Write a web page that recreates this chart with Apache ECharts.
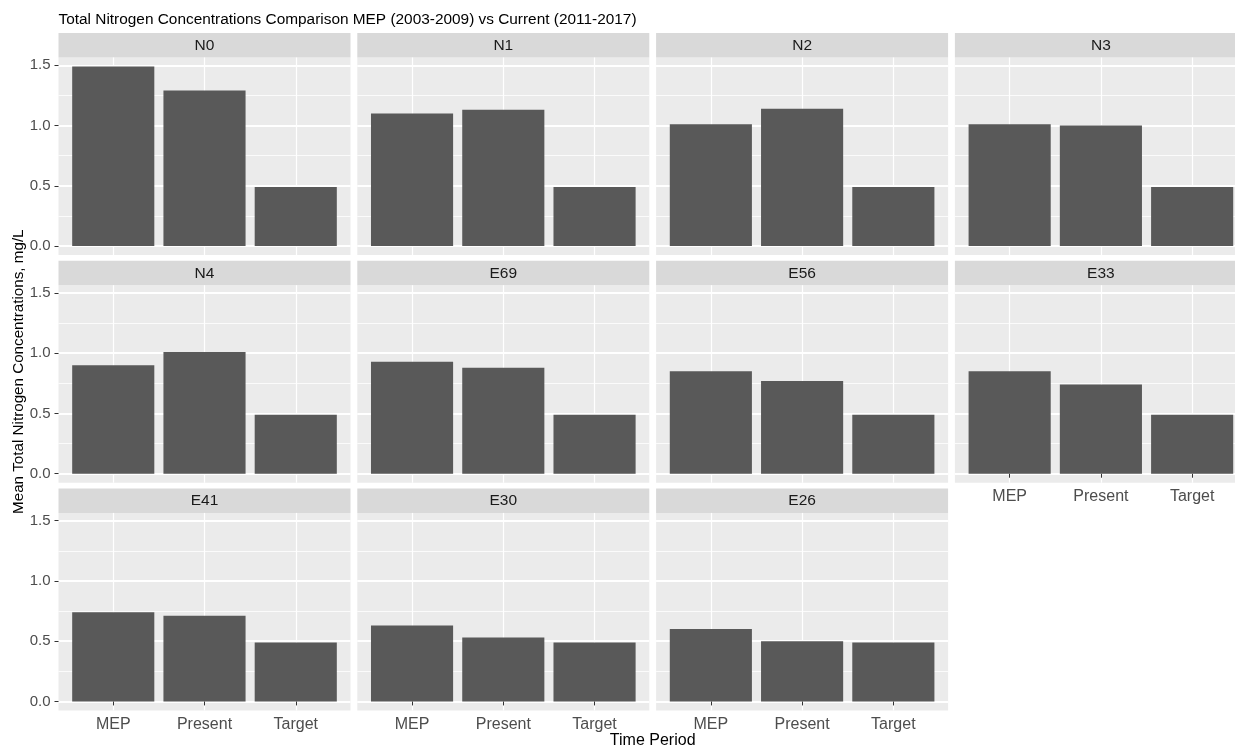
<!DOCTYPE html>
<html>
<head>
<meta charset="utf-8">
<title>Total Nitrogen Concentrations</title>
<script src="https://cdn.jsdelivr.net/npm/echarts@6/dist/echarts.min.js"></script>
<style>
  html, body { margin: 0; padding: 0; background: #ffffff; }
  #chart { width: 1235px; height: 747px; }
</style>
</head>
<body>
<div id="chart"></div>
<script>
// Monitoring stations, one facet each, in display order
const stations = ['N0', 'N1', 'N2', 'N3', 'N4', 'E69', 'E56', 'E33', 'E41', 'E30', 'E26'];
// Time periods on the x axis of every facet
const periods = ['MEP', 'Present', 'Target'];
// Mean total nitrogen, mg/L, per station
const mepValues     = [1.49, 1.10, 1.01, 1.01, 0.90, 0.93, 0.85, 0.85, 0.74, 0.63, 0.60];
const presentValues = [1.29, 1.13, 1.14, 1.00, 1.01, 0.88, 0.77, 0.74, 0.71, 0.53, 0.50];
const targetValues  = [0.49, 0.49, 0.49, 0.49, 0.49, 0.49, 0.49, 0.49, 0.49, 0.49, 0.49];
// y-axis breaks
const yTicks = [0, 0.5, 1.0, 1.5];
const yMinorTicks = [0.25, 0.75, 1.25];

const titleText = 'Total Nitrogen Concentrations Comparison MEP (2003-2009) vs Current (2011-2017)';
const yTitle = 'Mean Total Nitrogen Concentrations, mg/L';
const xTitle = 'Time Period';

// facet layout (pixels)
const NCOL = 4;
const COL_LEFT = 58.5, COL_PITCH = 298.8, PANEL_W = 292;
const ROW_TOP = 57.5, ROW_PITCH = 227.7, PANEL_H = 197.5, STRIP_H = 24.5;
const FONT = '"Liberation Sans", Arial, Helvetica, sans-serif';

const seriesByPeriod = [mepValues, presentValues, targetValues];
const allValues = [].concat(mepValues, presentValues, targetValues);
const dataMax = Math.max.apply(null, allValues);
const yMin = -dataMax * 0.05;
const yMax = dataMax * 1.05;
const xPos = periods.map((p, k) => k + 1);
const bandPx = PANEL_W / (periods.length + 0.2);

const grids = [], xAxes = [], yAxes = [], series = [], graphics = [];

stations.forEach((name, i) => {
  const r = Math.floor(i / NCOL), c = i % NCOL;
  const left = COL_LEFT + c * COL_PITCH;
  const top = ROW_TOP + r * ROW_PITCH;
  const showX = i + NCOL >= stations.length;
  const showY = c === 0;

  grids.push({
    left: left, top: top, width: PANEL_W, height: PANEL_H,
    show: true, backgroundColor: '#EBEBEB', borderWidth: 0,
    containLabel: false, outerBoundsMode: 'none'
  });

  xAxes.push({
    gridIndex: i, type: 'value', min: 0.4, max: 3.6,
    axisLine: { show: false },
    axisTick: { show: showX, customValues: xPos, length: 4,
                lineStyle: { color: '#333333', width: 1 } },
    axisLabel: { show: showX, customValues: xPos,
                 formatter: v => periods[Math.round(v) - 1],
                 color: '#4D4D4D', fontSize: 16, fontFamily: FONT, margin: 6 },
    splitLine: { show: true, lineStyle: { color: '#FFFFFF', width: 1.2 } }
  });

  yAxes.push({
    gridIndex: i, type: 'value', min: yMin, max: yMax, position: 'left',
    axisLine: { show: false },
    axisTick: { show: showY, customValues: yTicks, length: 4,
                lineStyle: { color: '#333333', width: 1 } },
    axisLabel: { show: showY, customValues: yTicks,
                 formatter: v => v.toFixed(1),
                 color: '#4D4D4D', fontSize: 15, fontFamily: FONT, margin: 8 },
    splitLine: { show: true, lineStyle: { color: '#FFFFFF', width: 1.8 } }
  });
  yAxes.push({
    gridIndex: i, type: 'value', min: yMin, max: yMax, position: 'right',
    axisLine: { show: false },
    axisTick: { show: false, customValues: yMinorTicks },
    axisLabel: { show: false },
    splitLine: { show: true, lineStyle: { color: '#FFFFFF', width: 0.8 } }
  });

  series.push({
    type: 'bar', name: name,
    xAxisIndex: i, yAxisIndex: 2 * i,
    data: periods.map((p, k) => [xPos[k], seriesByPeriod[k][i]]),
    barWidth: bandPx * 0.9,
    itemStyle: { color: '#595959' },
    silent: true
  });

  // facet strip
  graphics.push({
    type: 'rect', silent: true,
    shape: { x: left, y: top - STRIP_H, width: PANEL_W, height: STRIP_H },
    style: { fill: '#D9D9D9' }
  });
  graphics.push({
    type: 'text', silent: true,
    x: left + PANEL_W / 2, y: top - STRIP_H / 2 + 0.5,
    style: { text: name, align: 'center', verticalAlign: 'middle',
             fill: '#1A1A1A', font: '15.5px ' + FONT }
  });
});

const nRows = Math.ceil(stations.length / NCOL);
const areaTop = ROW_TOP - STRIP_H;
const areaBottom = ROW_TOP + (nRows - 1) * ROW_PITCH + PANEL_H;
const areaRight = COL_LEFT + (NCOL - 1) * COL_PITCH + PANEL_W;

graphics.push({
  type: 'text', silent: true,
  x: 19, y: (areaTop + areaBottom) / 2, rotation: Math.PI / 2,
  style: { text: yTitle, align: 'center', verticalAlign: 'middle',
           fill: '#000000', font: '15.2px ' + FONT }
});
graphics.push({
  type: 'text', silent: true,
  x: (COL_LEFT + areaRight) / 2, y: 741,
  style: { text: xTitle, align: 'center', verticalAlign: 'middle',
           fill: '#000000', font: '16px ' + FONT }
});

const chart = echarts.init(document.getElementById('chart'), null, { renderer: 'canvas' });
chart.setOption({
  animation: false,
  backgroundColor: '#FFFFFF',
  title: {
    text: titleText, left: COL_LEFT, top: 12.5, padding: 0,
    textStyle: { color: '#000000', fontSize: 15.4, fontWeight: 'normal', fontFamily: FONT }
  },
  tooltip: { show: false },
  grid: grids,
  xAxis: xAxes,
  yAxis: yAxes,
  series: series,
  graphic: graphics
});
</script>
</body>
</html>
